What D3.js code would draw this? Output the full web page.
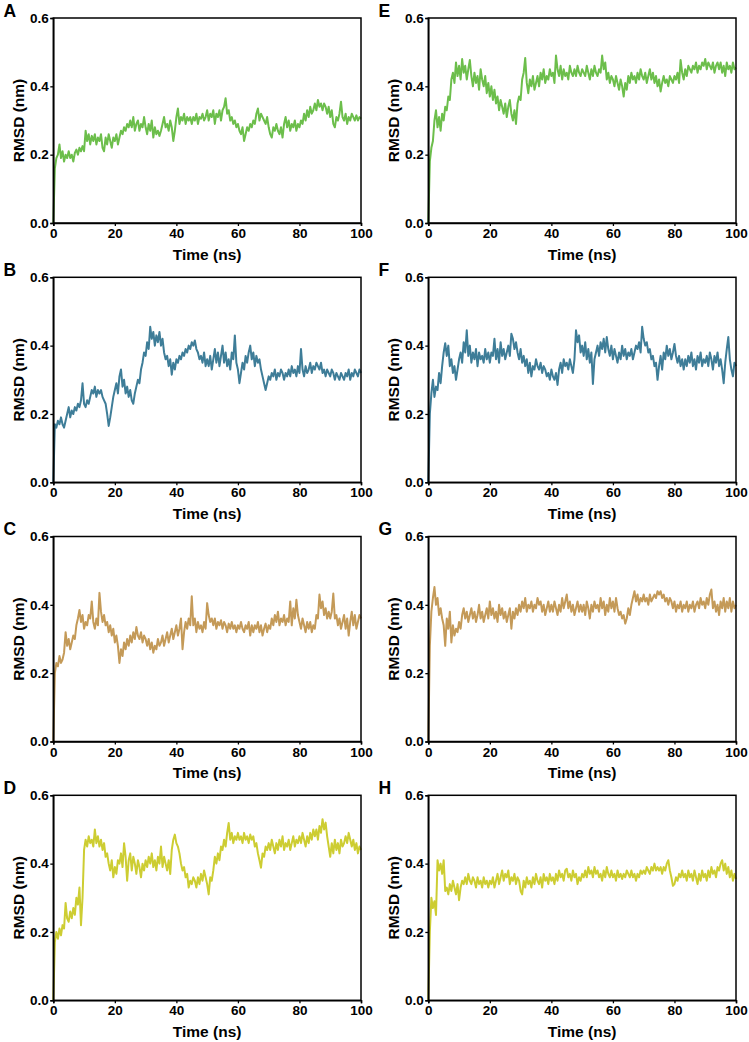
<!DOCTYPE html>
<html><head><meta charset="utf-8">
<script src="https://cdn.jsdelivr.net/npm/d3@7"></script>
<style>
body{margin:0;background:#fff;}
svg text{font-family:"Liberation Sans",Arial,sans-serif;font-weight:bold;fill:#000;}
</style></head>
<body>
<svg id="chart" width="749" height="1042"></svg>
<script>
// Sampling step of the trajectories (ns)
const timeStep = 0.5;
const xTicks = [0, 20, 40, 60, 80, 100];
const yTicks = [0.0, 0.2, 0.4, 0.6];
const panelLabels = ["A","B","C","D","E","F","G","H"];
const panelColors = ["#6cbe4b","#3e7d98","#c49a58","#cdcd32","#6cbe4b","#3e7d98","#c49a58","#cdcd32"];

const rmsdA = [
0,0.16,0.19,0.2,0.23,0.19,0.21,0.18,0.2,0.19,
0.21,0.19,0.2,0.18,0.205,0.215,0.2,0.22,0.21,0.225,
0.21,0.27,0.24,0.26,0.23,0.255,0.24,0.26,0.23,0.25,
0.24,0.26,0.22,0.21,0.25,0.23,0.26,0.24,0.22,0.25,
0.24,0.26,0.23,0.25,0.27,0.26,0.28,0.27,0.29,0.28,
0.3,0.28,0.31,0.27,0.29,0.3,0.27,0.29,0.28,0.31,
0.28,0.26,0.29,0.27,0.3,0.25,0.28,0.26,0.27,0.255,
0.27,0.29,0.31,0.28,0.29,0.27,0.3,0.28,0.24,0.27,
0.31,0.335,0.29,0.31,0.3,0.32,0.29,0.31,0.3,0.31,
0.29,0.31,0.3,0.32,0.29,0.31,0.305,0.32,0.3,0.31,
0.33,0.3,0.32,0.31,0.33,0.29,0.32,0.31,0.33,0.3,
0.33,0.34,0.365,0.32,0.33,0.3,0.31,0.29,0.3,0.28,
0.29,0.27,0.26,0.28,0.24,0.26,0.28,0.27,0.29,0.28,
0.3,0.29,0.32,0.335,0.3,0.32,0.31,0.3,0.29,0.31,
0.28,0.26,0.25,0.28,0.27,0.29,0.27,0.26,0.28,0.25,
0.29,0.31,0.28,0.3,0.27,0.29,0.28,0.3,0.27,0.29,
0.28,0.3,0.29,0.32,0.3,0.33,0.31,0.34,0.32,0.33,
0.35,0.33,0.36,0.34,0.35,0.33,0.35,0.34,0.32,0.34,
0.31,0.33,0.29,0.28,0.31,0.3,0.32,0.355,0.31,0.3,
0.32,0.29,0.31,0.3,0.32,0.31,0.3,0.315,0.3,0.31,
0.305];

const rmsdB = [
0,0.17,0.16,0.18,0.17,0.19,0.17,0.16,0.18,0.2,
0.22,0.19,0.21,0.2,0.22,0.21,0.23,0.22,0.24,0.29,
0.23,0.22,0.24,0.23,0.25,0.27,0.26,0.28,0.25,0.27,
0.26,0.27,0.25,0.24,0.23,0.2,0.165,0.19,0.22,0.25,
0.27,0.29,0.26,0.31,0.33,0.28,0.3,0.26,0.28,0.25,
0.27,0.24,0.23,0.26,0.28,0.3,0.29,0.33,0.35,0.38,
0.37,0.41,0.39,0.455,0.42,0.44,0.4,0.43,0.41,0.44,
0.4,0.42,0.38,0.36,0.37,0.34,0.36,0.315,0.35,0.33,
0.36,0.35,0.37,0.36,0.38,0.37,0.39,0.38,0.4,0.39,
0.41,0.4,0.415,0.39,0.38,0.36,0.37,0.35,0.38,0.34,
0.36,0.34,0.37,0.33,0.36,0.39,0.35,0.38,0.34,0.37,
0.4,0.35,0.38,0.34,0.36,0.33,0.38,0.36,0.43,0.35,
0.33,0.29,0.32,0.35,0.33,0.37,0.35,0.38,0.4,0.36,
0.38,0.34,0.37,0.35,0.36,0.33,0.31,0.29,0.27,0.29,
0.31,0.3,0.32,0.31,0.33,0.3,0.32,0.31,0.33,0.32,
0.3,0.32,0.31,0.33,0.31,0.34,0.32,0.33,0.31,0.34,
0.32,0.39,0.33,0.31,0.34,0.32,0.33,0.35,0.32,0.34,
0.33,0.35,0.34,0.33,0.35,0.32,0.33,0.31,0.33,0.32,
0.31,0.33,0.32,0.3,0.32,0.31,0.3,0.32,0.31,0.3,
0.32,0.31,0.33,0.3,0.32,0.31,0.33,0.32,0.31,0.33,
0.32];

const rmsdC = [
0,0.2,0.23,0.22,0.25,0.23,0.24,0.26,0.32,0.28,
0.3,0.27,0.29,0.31,0.3,0.34,0.36,0.385,0.35,0.37,
0.33,0.35,0.34,0.37,0.36,0.41,0.35,0.33,0.36,0.34,
0.435,0.38,0.35,0.37,0.34,0.35,0.32,0.34,0.31,0.33,
0.29,0.31,0.28,0.23,0.27,0.25,0.29,0.27,0.3,0.28,
0.31,0.29,0.32,0.3,0.335,0.31,0.3,0.32,0.29,0.31,
0.3,0.28,0.3,0.27,0.29,0.26,0.28,0.27,0.3,0.28,
0.29,0.31,0.28,0.3,0.32,0.29,0.31,0.33,0.3,0.32,
0.34,0.31,0.33,0.36,0.27,0.32,0.35,0.33,0.36,0.34,
0.425,0.34,0.36,0.32,0.35,0.33,0.34,0.32,0.35,0.33,
0.405,0.37,0.35,0.36,0.34,0.36,0.33,0.35,0.34,0.355,
0.33,0.35,0.34,0.32,0.345,0.33,0.35,0.33,0.34,0.32,
0.34,0.33,0.35,0.33,0.32,0.34,0.33,0.35,0.31,0.34,
0.32,0.34,0.33,0.35,0.32,0.34,0.31,0.33,0.345,0.32,
0.34,0.33,0.36,0.34,0.37,0.35,0.38,0.34,0.36,0.35,
0.37,0.34,0.36,0.35,0.41,0.34,0.39,0.36,0.415,0.37,
0.35,0.33,0.36,0.34,0.32,0.35,0.33,0.35,0.32,0.34,
0.33,0.37,0.36,0.43,0.39,0.41,0.37,0.39,0.36,0.38,
0.36,0.38,0.433,0.36,0.37,0.34,0.36,0.33,0.35,0.37,
0.33,0.36,0.31,0.35,0.38,0.34,0.37,0.33,0.35,0.37,
0.36];

const rmsdD = [
0,0.17,0.2,0.18,0.21,0.19,0.22,0.21,0.285,0.24,
0.23,0.26,0.24,0.27,0.25,0.3,0.28,0.33,0.22,0.3,
0.44,0.47,0.45,0.48,0.46,0.47,0.45,0.5,0.46,0.48,
0.45,0.47,0.44,0.46,0.42,0.43,0.4,0.38,0.41,0.36,
0.39,0.37,0.41,0.4,0.43,0.39,0.46,0.42,0.35,0.41,
0.43,0.38,0.42,0.4,0.37,0.41,0.39,0.36,0.4,0.38,
0.41,0.39,0.42,0.4,0.43,0.39,0.41,0.38,0.42,0.4,
0.45,0.39,0.42,0.4,0.38,0.41,0.37,0.44,0.47,0.485,
0.46,0.45,0.43,0.4,0.38,0.39,0.36,0.37,0.33,0.35,
0.34,0.36,0.35,0.33,0.36,0.34,0.37,0.35,0.38,0.36,
0.34,0.31,0.36,0.35,0.38,0.42,0.4,0.43,0.41,0.45,
0.44,0.47,0.45,0.49,0.519,0.47,0.49,0.46,0.48,0.47,
0.49,0.47,0.48,0.46,0.49,0.47,0.48,0.46,0.485,0.47,
0.48,0.45,0.46,0.43,0.41,0.388,0.43,0.42,0.45,0.44,
0.46,0.44,0.47,0.45,0.43,0.46,0.44,0.47,0.45,0.48,
0.44,0.46,0.45,0.47,0.44,0.46,0.48,0.45,0.47,0.46,
0.48,0.46,0.49,0.47,0.45,0.48,0.46,0.49,0.47,0.5,
0.48,0.5,0.47,0.51,0.49,0.53,0.5,0.52,0.48,0.45,
0.42,0.46,0.43,0.47,0.44,0.46,0.43,0.47,0.45,0.46,
0.48,0.46,0.49,0.47,0.45,0.47,0.44,0.46,0.43,0.45,
0.44];

const rmsdE = [
0,0.18,0.22,0.24,0.3,0.33,0.28,0.31,0.27,0.32,
0.3,0.34,0.33,0.37,0.36,0.42,0.44,0.41,0.47,0.43,
0.46,0.42,0.48,0.44,0.46,0.42,0.45,0.477,0.43,0.4,
0.44,0.41,0.43,0.39,0.45,0.42,0.4,0.43,0.38,0.41,
0.37,0.4,0.36,0.39,0.35,0.37,0.33,0.36,0.34,0.32,
0.35,0.31,0.34,0.36,0.32,0.3,0.33,0.29,0.35,0.37,
0.36,0.42,0.44,0.483,0.41,0.38,0.42,0.4,0.43,0.39,
0.41,0.43,0.4,0.44,0.42,0.45,0.41,0.43,0.42,0.45,
0.43,0.44,0.41,0.49,0.45,0.43,0.46,0.42,0.45,0.43,
0.44,0.42,0.46,0.44,0.43,0.45,0.43,0.46,0.44,0.43,
0.45,0.44,0.43,0.46,0.44,0.42,0.45,0.43,0.46,0.44,
0.43,0.45,0.44,0.49,0.45,0.47,0.42,0.44,0.41,0.43,
0.42,0.4,0.43,0.41,0.39,0.42,0.4,0.37,0.41,0.39,
0.43,0.41,0.44,0.42,0.43,0.41,0.44,0.42,0.45,0.43,
0.42,0.44,0.41,0.43,0.45,0.42,0.44,0.41,0.43,0.4,
0.42,0.385,0.41,0.43,0.41,0.42,0.4,0.43,0.42,0.41,
0.43,0.42,0.44,0.41,0.477,0.44,0.42,0.45,0.43,0.46,
0.45,0.44,0.46,0.45,0.47,0.44,0.46,0.45,0.47,0.46,
0.48,0.45,0.47,0.46,0.45,0.47,0.44,0.46,0.47,0.45,
0.47,0.44,0.46,0.43,0.47,0.45,0.46,0.44,0.47,0.45,
0.455];

const rmsdF = [
0,0.2,0.26,0.3,0.25,0.28,0.27,0.32,0.29,0.34,
0.38,0.407,0.37,0.4,0.34,0.36,0.32,0.34,0.3,0.33,
0.36,0.38,0.35,0.41,0.38,0.445,0.37,0.4,0.35,0.38,
0.36,0.39,0.34,0.38,0.36,0.37,0.35,0.39,0.36,0.38,
0.35,0.38,0.37,0.42,0.36,0.39,0.35,0.41,0.37,0.39,
0.36,0.38,0.4,0.37,0.435,0.42,0.39,0.41,0.38,0.36,
0.39,0.35,0.37,0.34,0.36,0.32,0.35,0.31,0.34,0.33,
0.36,0.34,0.33,0.35,0.32,0.34,0.33,0.31,0.32,0.3,
0.33,0.31,0.3,0.32,0.285,0.33,0.35,0.32,0.36,0.34,
0.35,0.33,0.36,0.34,0.32,0.36,0.445,0.41,0.43,0.38,
0.4,0.37,0.41,0.36,0.39,0.35,0.38,0.288,0.36,0.38,
0.4,0.37,0.41,0.39,0.42,0.38,0.425,0.39,0.37,0.4,
0.36,0.39,0.37,0.35,0.38,0.36,0.4,0.37,0.39,0.36,
0.38,0.37,0.39,0.36,0.38,0.4,0.39,0.41,0.38,0.455,
0.42,0.4,0.41,0.38,0.39,0.36,0.37,0.34,0.35,0.3,
0.34,0.37,0.33,0.38,0.36,0.4,0.37,0.39,0.36,0.38,
0.405,0.37,0.35,0.37,0.34,0.36,0.33,0.36,0.34,0.37,
0.35,0.38,0.34,0.36,0.33,0.37,0.35,0.38,0.34,0.36,
0.35,0.37,0.34,0.38,0.36,0.33,0.37,0.35,0.38,0.34,
0.36,0.33,0.29,0.35,0.39,0.425,0.36,0.33,0.31,0.35,
0.34];

const rmsdG = [
0,0.28,0.38,0.42,0.452,0.4,0.42,0.37,0.39,0.36,
0.34,0.28,0.36,0.33,0.38,0.29,0.34,0.31,0.33,0.32,
0.35,0.33,0.37,0.39,0.36,0.38,0.35,0.37,0.39,0.36,
0.38,0.35,0.37,0.4,0.36,0.38,0.35,0.37,0.39,0.36,
0.41,0.37,0.39,0.36,0.38,0.35,0.4,0.37,0.39,0.36,
0.38,0.35,0.37,0.39,0.33,0.38,0.36,0.39,0.37,0.4,
0.38,0.41,0.39,0.42,0.38,0.4,0.39,0.41,0.38,0.4,
0.39,0.42,0.4,0.41,0.38,0.4,0.37,0.39,0.41,0.38,
0.4,0.38,0.41,0.39,0.37,0.4,0.38,0.42,0.39,0.41,
0.43,0.39,0.41,0.38,0.4,0.37,0.39,0.41,0.38,0.4,
0.38,0.4,0.37,0.41,0.39,0.36,0.4,0.38,0.41,0.39,
0.4,0.38,0.42,0.39,0.41,0.37,0.4,0.38,0.42,0.39,
0.41,0.38,0.42,0.39,0.37,0.38,0.36,0.37,0.345,0.36,
0.39,0.37,0.4,0.42,0.44,0.41,0.43,0.4,0.42,0.41,
0.43,0.41,0.42,0.4,0.43,0.41,0.42,0.43,0.42,0.44,
0.43,0.44,0.42,0.43,0.41,0.42,0.4,0.42,0.41,0.39,
0.41,0.38,0.4,0.39,0.41,0.38,0.4,0.39,0.41,0.38,
0.4,0.39,0.41,0.38,0.4,0.41,0.39,0.42,0.4,0.41,
0.39,0.42,0.4,0.43,0.445,0.39,0.41,0.38,0.4,0.37,
0.41,0.39,0.42,0.38,0.41,0.39,0.42,0.38,0.41,0.39,
0.4];

const rmsdH = [
0,0.2,0.3,0.27,0.29,0.25,0.41,0.38,0.4,0.37,
0.41,0.32,0.33,0.31,0.34,0.32,0.35,0.33,0.31,0.34,
0.293,0.33,0.35,0.34,0.36,0.34,0.37,0.35,0.34,0.36,
0.35,0.33,0.36,0.34,0.35,0.33,0.36,0.34,0.35,0.33,
0.35,0.34,0.36,0.33,0.35,0.37,0.34,0.36,0.38,0.35,
0.37,0.36,0.38,0.34,0.36,0.35,0.37,0.34,0.36,0.35,
0.32,0.31,0.35,0.33,0.36,0.34,0.35,0.33,0.36,0.34,
0.37,0.35,0.34,0.36,0.33,0.37,0.35,0.36,0.34,0.37,
0.35,0.36,0.34,0.37,0.35,0.38,0.36,0.37,0.35,0.38,
0.385,0.36,0.37,0.35,0.38,0.36,0.37,0.34,0.36,0.35,
0.37,0.36,0.38,0.36,0.39,0.37,0.38,0.36,0.39,0.37,
0.38,0.36,0.37,0.35,0.38,0.36,0.39,0.37,0.36,0.38,
0.36,0.37,0.35,0.38,0.36,0.37,0.355,0.37,0.36,0.38,
0.37,0.36,0.38,0.36,0.37,0.35,0.37,0.36,0.38,0.37,
0.38,0.37,0.39,0.38,0.37,0.39,0.38,0.4,0.38,0.39,
0.38,0.39,0.37,0.39,0.38,0.4,0.41,0.38,0.36,0.335,
0.34,0.36,0.35,0.37,0.36,0.38,0.36,0.37,0.35,0.38,
0.36,0.37,0.35,0.38,0.36,0.34,0.37,0.35,0.38,0.36,
0.37,0.35,0.38,0.36,0.39,0.37,0.38,0.36,0.39,0.38,
0.4,0.41,0.38,0.4,0.37,0.39,0.36,0.38,0.35,0.37,
0.355];

const panelSeries = [rmsdA, rmsdB, rmsdC, rmsdD, rmsdE, rmsdF, rmsdG, rmsdH];

// ---- layout ----
const colLeft = [53.3, 428.3];
const rowTop = [18, 277.3, 536.5, 795.3];
const plotW = 307.7, plotH = 205;

const svg = d3.select("#chart");

panelSeries.forEach((vals, i) => {
  const col = Math.floor(i / 4), row = i % 4;
  const g = svg.append("g").attr("transform", `translate(${colLeft[col]},${rowTop[row]})`);
  const x = d3.scaleLinear().domain([0, 100]).range([0, plotW]);
  const y = d3.scaleLinear().domain([0, 0.6]).range([plotH, 0]);
  const data = vals.map((v, k) => ({t: k * timeStep, v}));

  g.append("path")
    .datum(data)
    .attr("fill", "none")
    .attr("stroke", panelColors[i])
    .attr("stroke-width", 2)
    .attr("stroke-linejoin", "round")
    .attr("d", d3.line().x(d => x(d.t)).y(d => y(d.v)));

  // frame
  g.append("rect").attr("x", 0).attr("y", 0).attr("width", plotW).attr("height", plotH)
    .attr("fill", "none").attr("stroke", "#000").attr("stroke-width", 1.5);

  const xa = g.append("g").attr("transform", `translate(0,${plotH})`)
    .call(d3.axisBottom(x).tickValues(xTicks).tickFormat(d3.format("d")).tickSize(3).tickPadding(2.5));
  const ya = g.append("g")
    .call(d3.axisLeft(y).tickValues(yTicks).tickFormat(d3.format(".1f")).tickSize(3).tickPadding(1.5));
  [xa, ya].forEach(a => {
    a.select(".domain").attr("stroke", "#000").attr("stroke-width", 1.5);
    a.selectAll(".tick line").attr("stroke", "#000").attr("stroke-width", 1.3);
    a.selectAll(".tick text").style("font-size", "13.5px").style("font-weight", "bold")
      .style("font-family", '"Liberation Sans",Arial,sans-serif').attr("fill", "#000");
  });

  g.append("text").attr("x", plotW / 2).attr("y", plotH + 36.5)
    .attr("text-anchor", "middle").style("font-size", "15.5px").text("Time (ns)");
  g.append("text").attr("transform", `translate(-29,${plotH / 2}) rotate(-90)`)
    .attr("text-anchor", "middle").style("font-size", "15.5px").text("RMSD (nm)");

  svg.append("text").attr("x", col === 0 ? 3.5 : 378.5).attr("y", rowTop[row] - 1.3)
    .style("font-size", "17.5px").text(panelLabels[i]);
});
</script>
</body></html>
